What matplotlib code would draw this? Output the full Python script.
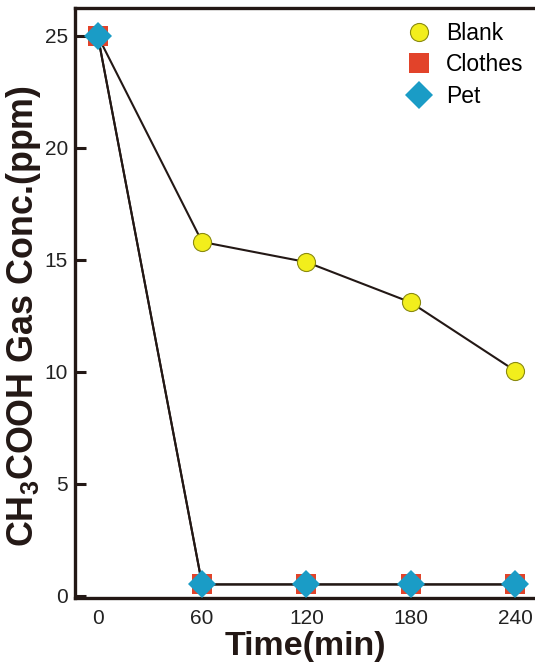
import matplotlib
matplotlib.use("Agg")
import matplotlib.pyplot as plt
from matplotlib.lines import Line2D

plt.rcParams["font.family"] = ["Liberation Sans", "DejaVu Sans"]

time_min = [0, 60, 120, 180, 240]
blank = [25, 15.8, 14.9, 13.1, 10.05]
clothes = [25, 0.5, 0.5, 0.5, 0.5]
pet = [25, 0.5, 0.5, 0.5, 0.5]
x_ticks = [0, 60, 120, 180, 240]
y_ticks = [0, 5, 10, 15, 20, 25]

ink = "#231815"
styles = {
    "Blank": dict(marker="o", ms=13, mfc="#f2ee1c", mec="#8a8a10", mew=0.8),
    "Clothes": dict(marker="s", ms=14, mfc="#e2432a", mec="#e2432a", mew=0),
    "Pet": dict(marker="D", ms=14, mfc="#1a9cc6", mec="#1a9cc6", mew=0),
}

fig = plt.figure(figsize=(5.35, 6.68), dpi=100)
ax = fig.add_axes([0.140, 0.105, 0.86, 0.883])

for z, (name, ys) in enumerate([("Blank", blank), ("Clothes", clothes), ("Pet", pet)]):
    ax.plot(time_min, ys, color=ink, lw=1.5, zorder=3 + z, **styles[name])

ax.set_xlim(-13.2, 251.5)
ax.set_ylim(-0.1, 26.25)

ax.set_xticks(x_ticks)
ax.set_xticks([0], minor=True)
ax.tick_params(axis="x", which="major", length=0, pad=8, labelsize=15, colors="#222222")
ax.tick_params(axis="x", which="minor", direction="in", length=11, width=2.2, color=ink)
ax.set_yticks(y_ticks)
ax.tick_params(axis="y", direction="in", length=8, width=2.2, color=ink,
               labelsize=15, labelcolor="#222222", pad=5)

for side in ["left", "bottom", "top"]:
    ax.spines[side].set_linewidth(2.4)
    ax.spines[side].set_color(ink)
ax.spines["right"].set_visible(False)

ax.set_xlabel("Time(min)", fontsize=24.5, fontweight="bold", color=ink, labelpad=2)
ax.set_ylabel(r"CH$_\mathregular{3}$COOH Gas Conc.(ppm)", fontsize=25.8, fontweight="bold",
              color=ink)
ax.yaxis.set_label_coords(-0.07, 0.478)

handles = [Line2D([], [], ls="none", **styles[n]) for n in ["Blank", "Clothes", "Pet"]]
ax.legend(handles, ["Blank", "Clothes", "Pet"], loc="upper right", frameon=False,
          fontsize=16.5, handlelength=1.0, handletextpad=0.7, labelspacing=0.38,
          borderaxespad=0.2, bbox_to_anchor=(1.005, 1.0))

fig.savefig("out.png", dpi=100, facecolor="white")
